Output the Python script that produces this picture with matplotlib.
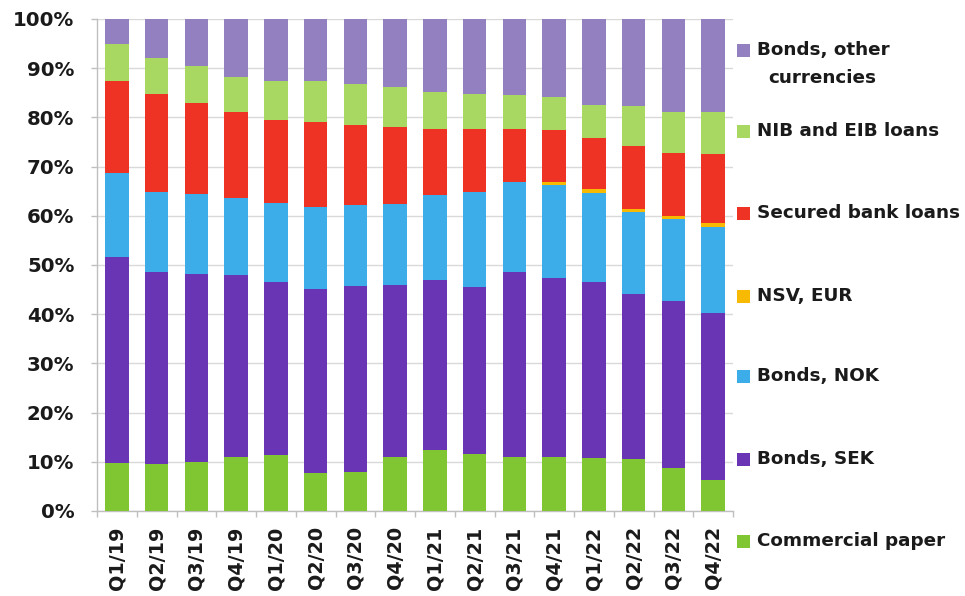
import numpy as np
import matplotlib.pyplot as plt
from matplotlib.patches import Rectangle
from matplotlib.ticker import FuncFormatter

plt.rcParams['font.family'] = ['DejaVu Sans']
plt.rcParams['font.weight'] = 'bold'

quarters = ["Q1/19", "Q2/19", "Q3/19", "Q4/19",
            "Q1/20", "Q2/20", "Q3/20", "Q4/20",
            "Q1/21", "Q2/21", "Q3/21", "Q4/21",
            "Q1/22", "Q2/22", "Q3/22", "Q4/22"]

# Funding mix, share of total (%)
commercial_paper = [9.7, 9.6, 9.9, 10.9, 11.4, 7.7, 7.9, 10.9,
                    12.3, 11.6, 11.0, 11.0, 10.8, 10.6, 8.7, 6.3]
bonds_sek = [42.0, 38.9, 38.3, 37.1, 35.1, 37.4, 37.9, 35.1,
             34.7, 34.0, 37.6, 36.4, 35.7, 33.6, 34.0, 34.0]
bonds_nok = [17.1, 16.3, 16.2, 15.7, 16.2, 16.6, 16.4, 16.3,
             17.2, 19.3, 18.3, 18.9, 18.2, 16.5, 16.6, 17.5]
nsv_eur = [0.0, 0.0, 0.0, 0.0, 0.0, 0.0, 0.0, 0.0,
           0.0, 0.0, 0.0, 0.6, 0.7, 0.7, 0.7, 0.7]
secured_bank_loans = [18.5, 19.9, 18.5, 17.3, 16.7, 17.4, 16.3, 15.8,
                      13.5, 12.7, 10.7, 10.5, 10.5, 12.7, 12.7, 14.1]
nib_eib_loans = [7.6, 7.4, 7.5, 7.3, 8.1, 8.3, 8.2, 8.0,
                 7.4, 7.2, 6.9, 6.7, 6.6, 8.3, 8.4, 8.5]
bonds_other = [5.1, 7.9, 9.6, 11.7, 12.5, 12.6, 13.3, 13.9,
               14.9, 15.2, 15.5, 15.9, 17.5, 17.6, 18.9, 18.9]

series = [
    ("Commercial paper", commercial_paper, "#80C632"),
    ("Bonds, SEK", bonds_sek, "#6A35B5"),
    ("Bonds, NOK", bonds_nok, "#3CADE8"),
    ("NSV, EUR", nsv_eur, "#F7BA00"),
    ("Secured bank loans", secured_bank_loans, "#EE3224"),
    ("NIB and EIB loans", nib_eib_loans, "#A8D862"),
    ("Bonds, other\ncurrencies", bonds_other, "#9280C0"),
]

W, H = 965, 596
fig = plt.figure(figsize=(W / 100, H / 100), dpi=100)
ax = fig.add_axes([97 / W, 1 - 511 / H, (733 - 97) / W, (511 - 19) / H])

x = np.arange(len(quarters))
bottom = np.zeros(len(quarters))
for name, vals, color in series:
    vals = np.asarray(vals, dtype=float)
    ax.bar(x, vals, 0.59, bottom=bottom, color=color, zorder=3, linewidth=0)
    bottom += vals

ax.set_xlim(-0.5, len(quarters) - 0.5)
ax.set_ylim(0, 100)
ax.set_yticks(np.arange(0, 101, 10))
ax.yaxis.set_major_formatter(FuncFormatter(lambda v, p: f"{v:.0f}%"))
ax.grid(axis='y', color='#D9D9D9', linewidth=1.0, zorder=0)

ax.set_xticks(x)
ax.set_xticklabels(quarters, rotation=90, va='top', ha='center')
ax.set_xticks(np.arange(-0.5, len(quarters), 1), minor=True)
ax.tick_params(axis='x', which='major', length=0, pad=11, labelsize=13.8,
               labelcolor='#1A1A1A')
ax.tick_params(axis='x', which='minor', length=4.5, color='#BFBFBF', width=1)
ax.tick_params(axis='y', length=4.3, color='#BFBFBF', width=1, pad=12,
               labelsize=14.2, labelcolor='#1A1A1A')

for s in ['top', 'right']:
    ax.spines[s].set_visible(False)
for s in ['left', 'bottom']:
    ax.spines[s].set_color('#BFBFBF')
    ax.spines[s].set_linewidth(1)

# Legend on the right, top entry first
legend_rows = {
    "Bonds, other\ncurrencies": 50,
    "NIB and EIB loans": 131,
    "Secured bank loans": 213,
    "NSV, EUR": 296,
    "Bonds, NOK": 376,
    "Bonds, SEK": 459,
    "Commercial paper": 541,
}
sq = 13
for name, vals, color in series:
    yc = legend_rows[name]
    fig.add_artist(Rectangle((737 / W, 1 - (yc + sq / 2) / H), sq / W, sq / H,
                             transform=fig.transFigure, color=color, lw=0))
    lines = name.split("\n")
    fig.text(757 / W, 1 - yc / H, lines[0], ha='left', va='center',
             fontsize=13.2, fontweight='bold', color='#1A1A1A')
    if len(lines) > 1:
        fig.text(768 / W, 1 - (yc + 28) / H, lines[1], ha='left', va='center',
                 fontsize=13.2, fontweight='bold', color='#1A1A1A')

fig.savefig("out.png", dpi=100, facecolor='white')
